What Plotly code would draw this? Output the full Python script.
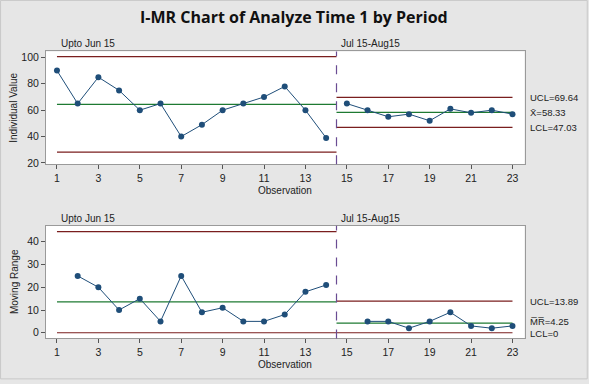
import plotly.graph_objects as go

# ---- data ----
observation = list(range(1, 24))
individual = [90, 65, 85, 75, 60, 65, 40, 49, 60, 65, 70, 78, 60, 39,
              65, 60, 55, 57, 52, 61, 58, 60, 57]
moving_range = [None, 25, 20, 10, 15, 5, 25, 9, 11, 5, 5, 8, 18, 21,
                None, 5, 5, 2, 5, 9, 3, 2, 3]
period_names = ["Upto Jun 15", "Jul 15-Aug15"]
period_start = [1, 14.5]
period_end = [14.5, 23]
split_at = 14.5
i_ucl = [100.54, 69.64]
i_cl = [64.36, 58.33]
i_lcl = [28.18, 47.03]
mr_ucl = [44.48, 13.89]
mr_cl = [13.62, 4.25]
mr_lcl = [0, 0]
x_ticks = list(range(1, 24, 2))

RED = "#7a1e1e"
GREEN = "#1e7a32"
DATA = "#1f4e79"
PURPLE = "#6a4c93"
FONT = "Liberation Sans, Arial, sans-serif"

fig = go.Figure()

def add_series(xs, ys, yaxis):
    fig.add_trace(go.Scatter(x=xs, y=ys, mode="lines+markers", yaxis=yaxis, xaxis="x" if yaxis == "y" else "x2",
                             line=dict(color=DATA, width=1), marker=dict(color=DATA, size=6),
                             showlegend=False, hoverinfo="x+y"))

def add_hline(x0, x1, y, color, yaxis):
    fig.add_trace(go.Scatter(x=[x0, x1], y=[y, y], mode="lines", yaxis=yaxis, xaxis="x" if yaxis == "y" else "x2",
                             line=dict(color=color, width=1.2), showlegend=False, hoverinfo="skip"))

# control limits
for p in range(2):
    for vals, col in ((i_ucl, RED), (i_cl, GREEN), (i_lcl, RED)):
        add_hline(period_start[p], period_end[p], vals[p], col, "y")
    for vals, col in ((mr_ucl, RED), (mr_cl, GREEN), (mr_lcl, RED)):
        add_hline(period_start[p], period_end[p], vals[p], col, "y2")

# data series split by period
p1 = [i for i, x in enumerate(observation) if x < split_at]
p2 = [i for i, x in enumerate(observation) if x > split_at]
for idx in (p1, p2):
    add_series([observation[i] for i in idx], [individual[i] for i in idx], "y")
    xs = [observation[i] for i in idx if moving_range[i] is not None]
    ys = [moving_range[i] for i in idx if moving_range[i] is not None]
    add_series(xs, ys, "y2")

W, H = 589, 384
def px_x(v): return v / W
def px_y(v): return 1 - v / H

axis_common = dict(showline=True, mirror=True, linecolor="#9a9a9a", linewidth=1,
                   ticks="outside", ticklen=4, tickcolor="#555", showgrid=False, zeroline=False,
                   tickfont=dict(family=FONT, size=10.5, color="#222"))

fig.update_layout(
    width=W, height=H, margin=dict(l=0, r=0, t=0, b=0),
    paper_bgcolor="#e6e6e6", plot_bgcolor="white",
    xaxis=dict(domain=[px_x(46), px_x(524.5)], range=[0.47, 23.58], tickvals=x_ticks,
               anchor="y", **axis_common),
    yaxis=dict(domain=[px_y(166), px_y(52)], range=[19, 104.5], tickvals=[20, 40, 60, 80, 100],
               anchor="x", **axis_common),
    xaxis2=dict(domain=[px_x(46), px_x(524.5)], range=[0.47, 23.58], tickvals=x_ticks,
                anchor="y2", **axis_common),
    yaxis2=dict(domain=[px_y(342), px_y(228)], range=[-2.5, 47.1], tickvals=[0, 10, 20, 30, 40],
                anchor="x2", **axis_common),
    font=dict(family=FONT, color="#222"),
)

# dashed separators
for yref in ("y domain", "y2 domain"):
    fig.add_shape(type="line", xref="x" if yref == "y domain" else "x2", yref=yref,
                  x0=split_at, x1=split_at, y0=0, y1=1,
                  line=dict(color=PURPLE, width=1.2, dash="dash"))

def pa(text, x, y, size=10, **kw):
    d = dict(text=text, x=px_x(x), y=px_y(y), xref="paper", yref="paper", xanchor="center", yanchor="middle",
             showarrow=False, font=dict(size=size))
    d.update(kw)
    return d

ann = []
ann.append(pa("<b>I-MR Chart of Analyze Time 1 by Period</b>", 294, 17, size=16,
              font=dict(family="Open Sans, Noto Sans, sans-serif", size=16, color="#111")))
# period labels
for top in (44, 221):
    ann.append(pa(period_names[0], 59, top, xanchor="left"))
    ann.append(pa(period_names[1], 339, top, xanchor="left"))
# axis titles
ann.append(pa("Individual Value", 14, 109, textangle=-90))
ann.append(pa("Moving Range", 14, 285, textangle=-90))
for yy in (192, 368):
    ann.append(pa("Observation", 285, yy))
# limit labels
lab_x = px_x(528)
def la(text, y, yref):
    return dict(text=text, x=lab_x, y=y, xref="paper", yref=yref, xanchor="left", yanchor="middle",
                showarrow=False, font=dict(size=9.5))
ann.append(la(f"UCL={i_ucl[1]:.2f}", i_ucl[1], "y"))
ann.append(la(f"X\u0304={i_cl[1]:.2f}", i_cl[1], "y"))
ann.append(la(f"LCL={i_lcl[1]:.2f}", i_lcl[1], "y"))
ann.append(la(f"UCL={mr_ucl[1]:.2f}", mr_ucl[1], "y2"))
ann.append(la(f"M\u0305R\u0305={mr_cl[1]:.2f}", mr_cl[1] + 0.6, "y2"))
ann.append(la(f"LCL={mr_lcl[1]:g}", mr_lcl[1] - 0.3, "y2"))
fig.update_layout(annotations=ann)

# outer frame
fig.add_shape(type="rect", xref="paper", yref="paper", x0=0.001, y0=0.003, x1=0.997, y1=0.999,
              line=dict(color="#c8c8c8", width=1), layer="below")

fig.write_html("out.html", config={"displayModeBar": False},
               post_script="document.body.style.margin='0';document.body.style.overflow='hidden';")
